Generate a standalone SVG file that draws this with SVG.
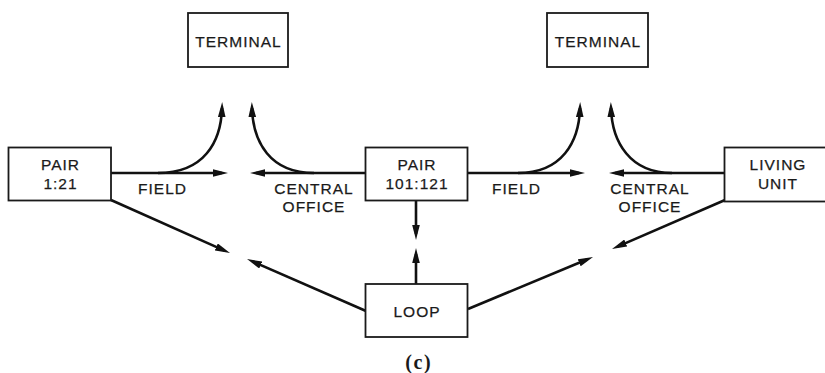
<svg xmlns="http://www.w3.org/2000/svg" width="825" height="373" viewBox="0 0 825 373">
  <style>
    .box { fill: #ffffff; stroke: #1a1a1a; stroke-width: 1.8; }
    .lbl { font-family: "Liberation Sans", Arial, sans-serif; font-size: 15.5px; letter-spacing: 1px; fill: #1a1a1a; stroke: #1a1a1a; stroke-width: 0.25; text-anchor: middle; }
    .cap { font-family: "Liberation Serif", "Times New Roman", serif; font-size: 20px; font-weight: bold; letter-spacing: 1.5px; fill: #1a1a1a; text-anchor: middle; }
    .wire { fill: none; stroke: #111111; stroke-width: 2.6; marker-end: url(#head); }
  </style>
  <defs>
    <marker id="head" viewBox="0 0 15 8" refX="9" refY="4" markerWidth="15" markerHeight="8" markerUnits="userSpaceOnUse" orient="auto">
      <path d="M0,0.2 L15,4 L0,7.8 z" fill="#111111"/>
    </marker>
  </defs>

  <rect width="825" height="373" fill="#ffffff"/>

  <!-- connectors -->
  <g id="connectors">
    <!-- pair 1:21 to field / terminal -->
    <path class="wire" d="M111,173 L222,173"/>
    <path class="wire" d="M158,173 C204,173 221,142 222,108"/>
    <!-- pair 101:121 to central office / terminal -->
    <path class="wire" d="M366,173 L256,173"/>
    <path class="wire" d="M314,173 C270,173 253,142 252,108"/>
    <!-- pair 101:121 to field / terminal -->
    <path class="wire" d="M468,173 L579,173"/>
    <path class="wire" d="M518,173 C562,173 579,142 580,108"/>
    <!-- living unit to central office / terminal -->
    <path class="wire" d="M725,173 L615,173"/>
    <path class="wire" d="M672,173 C630,173 612,142 611,108"/>
    <!-- diagonals toward the loop -->
    <path class="wire" d="M111,200 L224.5,250.6"/>
    <path class="wire" d="M366,311 L252.5,261.4"/>
    <path class="wire" d="M468,309 L587.5,259.3"/>
    <path class="wire" d="M725,200 L617.5,246.6"/>
    <!-- vertical pair between pair 101:121 and loop -->
    <path class="wire" d="M416,200 L416,234"/>
    <path class="wire" d="M416,284 L416,254"/>
  </g>

  <g id="terminal-left">
    <rect class="box" x="188" y="13" width="100" height="54"/>
    <text class="lbl" x="238.5" y="47">TERMINAL</text>
  </g>

  <g id="terminal-right">
    <rect class="box" x="547" y="13" width="101" height="54"/>
    <text class="lbl" x="598" y="47">TERMINAL</text>
  </g>

  <g id="pair-1-21">
    <rect class="box" x="8.5" y="147.5" width="102.5" height="53"/>
    <text class="lbl" x="60.5" y="170">PAIR</text>
    <text class="lbl" x="60.5" y="189">1:21</text>
  </g>

  <g id="pair-101-121">
    <rect class="box" x="365.5" y="147.5" width="102" height="53"/>
    <text class="lbl" x="417" y="170">PAIR</text>
    <text class="lbl" x="417" y="189">101:121</text>
  </g>

  <g id="living-unit">
    <rect class="box" x="724.5" y="147.5" width="110" height="54"/>
    <text class="lbl" x="778" y="170">LIVING</text>
    <text class="lbl" x="778" y="189">UNIT</text>
  </g>

  <g id="loop">
    <rect class="box" x="365.5" y="284" width="102" height="53"/>
    <text class="lbl" x="417" y="316.5">LOOP</text>
  </g>

  <!-- connector labels -->
  <g id="labels">
    <text class="lbl" x="162.5" y="193.5">FIELD</text>
    <text class="lbl" x="314" y="193.5">CENTRAL</text>
    <text class="lbl" x="314" y="212">OFFICE</text>
    <text class="lbl" x="516.5" y="193.5">FIELD</text>
    <text class="lbl" x="650" y="193.5">CENTRAL</text>
    <text class="lbl" x="650" y="212">OFFICE</text>
  </g>

  <text class="cap" x="418.7" y="369">(c)</text>
</svg>
